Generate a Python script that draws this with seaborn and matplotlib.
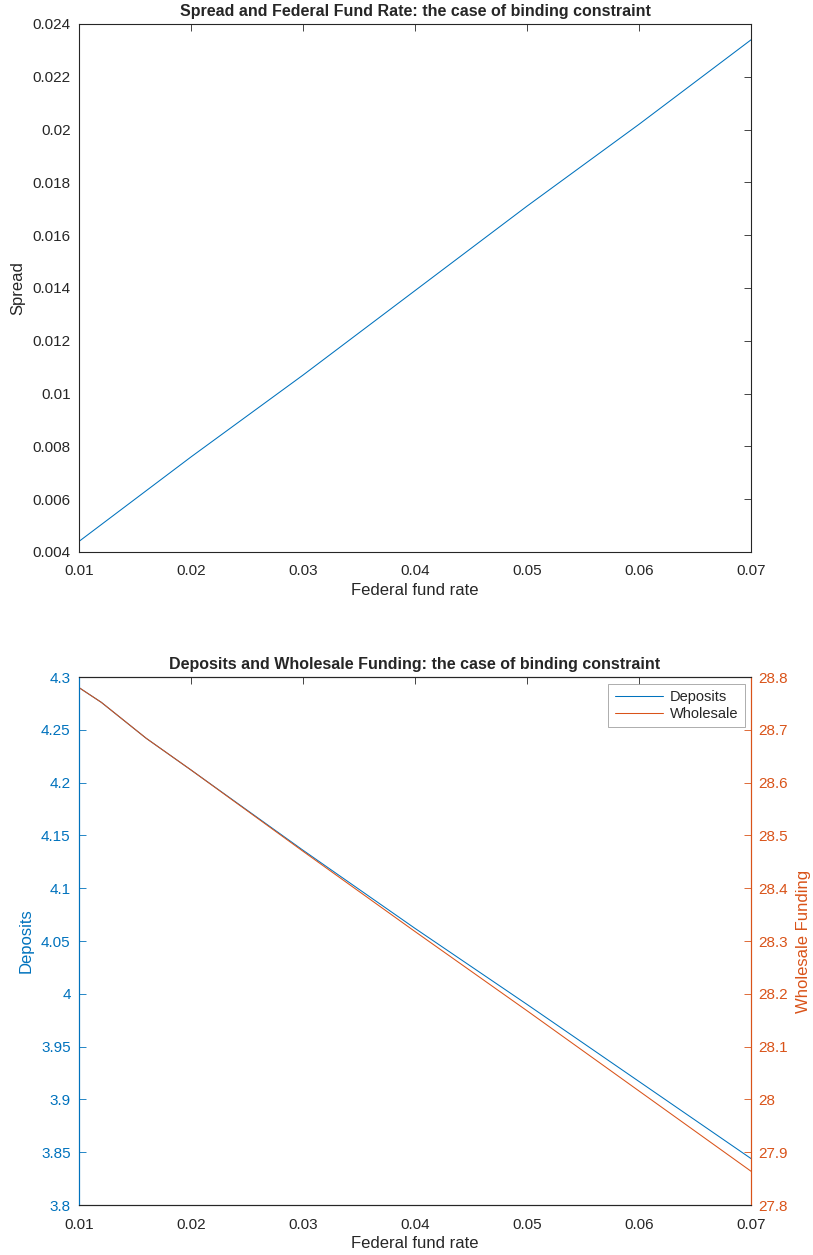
import numpy as np
import pandas as pd
import matplotlib
matplotlib.use("Agg")
import matplotlib.pyplot as plt
import seaborn as sns

# === DONNEES ===
fed_rate = [0.01, 0.02, 0.03, 0.04, 0.05, 0.06, 0.07]
spread = [0.0044, 0.0076, 0.0107, 0.0139, 0.0171, 0.0202, 0.0234]

fed_rate_b = [0.01, 0.012, 0.016, 0.02, 0.03, 0.04, 0.05, 0.06, 0.07]
deposits = [4.290, 4.276, 4.242, 4.212, 4.136, 4.062, 3.990, 3.917, 3.844]
wholesale = [28.780, 28.752, 28.684, 28.624, 28.470, 28.318, 28.168, 28.016, 27.864]

x_ticks = [0.01, 0.02, 0.03, 0.04, 0.05, 0.06, 0.07]
spread_ticks = [0.004, 0.006, 0.008, 0.01, 0.012, 0.014, 0.016, 0.018, 0.02, 0.022, 0.024]
dep_ticks = [3.8, 3.85, 3.9, 3.95, 4, 4.05, 4.1, 4.15, 4.2, 4.25, 4.3]
whs_ticks = [27.8, 27.9, 28, 28.1, 28.2, 28.3, 28.4, 28.5, 28.6, 28.7, 28.8]

BLEU = "#0072BD"
ORANGE = "#D95319"
GRIS = "#262626"

sns.set_style("white")
plt.rcParams['font.family'] = ['Liberation Sans', 'DejaVu Sans']
plt.rcParams['axes.linewidth'] = 0.8


def fmt(v):
    return f"{v:g}"


def style_axes(ax):
    for s in ax.spines.values():
        s.set_color(GRIS)
        s.set_linewidth(0.8)
    ax.tick_params(direction="in", length=5, width=0.6, labelsize=11,
                   colors=GRIS, top=True)
    ax.tick_params(axis="x", pad=9)
    ax.tick_params(axis="y", pad=6)


fig = plt.figure(figsize=(8.13, 12.55), dpi=100)

# === GRAPHIQUE 1 : SPREAD ===
ax1 = fig.add_axes([0.0972, 0.5602, 0.8266, 0.4207])
df1 = pd.DataFrame({"fed": fed_rate, "spread": spread})
sns.lineplot(data=df1, x="fed", y="spread", ax=ax1, color=BLEU, linewidth=0.75)
style_axes(ax1)
ax1.tick_params(right=True)
ax1.set_xlim(0.01, 0.07)
ax1.set_ylim(0.004, 0.024)
ax1.set_xticks(x_ticks)
ax1.set_xticklabels([fmt(v) for v in x_ticks])
ax1.set_yticks(spread_ticks)
ax1.set_yticklabels([fmt(v) for v in spread_ticks])
ax1.set_xlabel("Federal fund rate", fontsize=12, color=GRIS, labelpad=3)
ax1.set_ylabel("Spread", fontsize=12, color=GRIS, labelpad=5)
ax1.set_title("Spread and Federal Fund Rate: the case of binding constraint",
              fontsize=11.5, fontweight="bold", pad=6)

# === GRAPHIQUE 2 : DEPOTS ET FINANCEMENT DE GROS ===
ax2 = fig.add_axes([0.0972, 0.0398, 0.8266, 0.4207])
ax3 = ax2.twinx()
df2 = pd.DataFrame({"fed": fed_rate_b, "dep": deposits, "whs": wholesale})
sns.lineplot(data=df2, x="fed", y="dep", ax=ax2, color=BLEU, linewidth=0.75)
sns.lineplot(data=df2, x="fed", y="whs", ax=ax3, color=ORANGE, linewidth=0.75)

style_axes(ax2)
style_axes(ax3)
ax2.set_xlim(0.01, 0.07)
ax2.set_ylim(3.8, 4.3)
ax3.set_ylim(27.8, 28.8)
ax2.set_xticks(x_ticks)
ax2.set_xticklabels([fmt(v) for v in x_ticks])
ax2.set_yticks(dep_ticks)
ax2.set_yticklabels([fmt(v) for v in dep_ticks])
ax3.set_yticks(whs_ticks)
ax3.set_yticklabels([fmt(v) for v in whs_ticks])
ax2.tick_params(axis="y", colors=BLEU, right=False)
ax3.tick_params(axis="y", colors=ORANGE, left=False, pad=5)
ax2.spines["left"].set_color(BLEU)
ax3.spines["left"].set_color(BLEU)
ax2.spines["right"].set_color(ORANGE)
ax3.spines["right"].set_color(ORANGE)
ax2.set_xlabel("Federal fund rate", fontsize=12, color=GRIS, labelpad=3)
ax2.set_ylabel("Deposits", fontsize=12, color=BLEU, labelpad=5)
ax3.set_ylabel("Wholesale Funding", fontsize=12, color=ORANGE, labelpad=6)
ax2.set_title("Deposits and Wholesale Funding: the case of binding constraint",
              fontsize=11.5, fontweight="bold", pad=6)

lignes = [ax2.get_lines()[0], ax3.get_lines()[0]]
leg = ax3.legend(lignes, ["Deposits", "Wholesale"], loc="upper right",
                 fontsize=10.5, frameon=True, fancybox=False, borderpad=0.45,
                 handlelength=3.3, handletextpad=0.5, labelspacing=0.15,
                 borderaxespad=0, bbox_to_anchor=(0.991, 0.987))
leg.get_frame().set_edgecolor("#888888")
leg.get_frame().set_linewidth(0.6)

fig.savefig("out.png", dpi=100)
